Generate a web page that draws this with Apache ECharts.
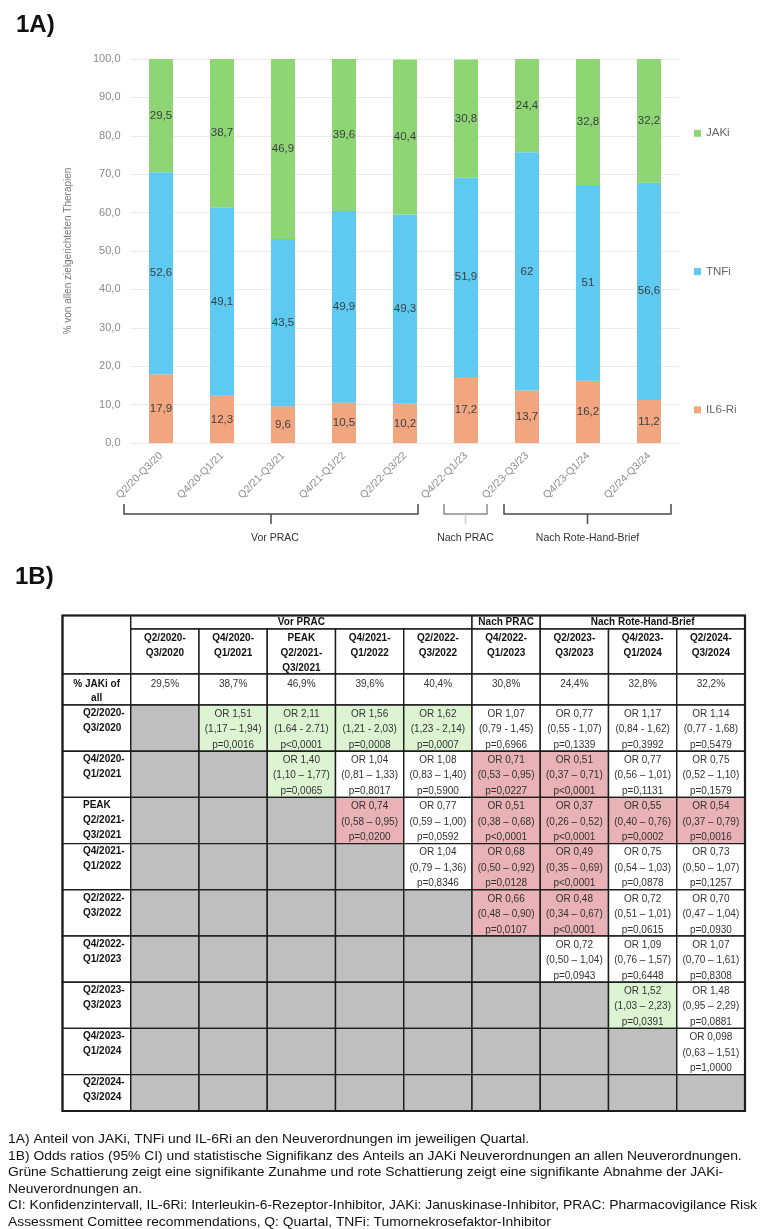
<!DOCTYPE html>
<html><head><meta charset="utf-8">
<script src="https://cdn.jsdelivr.net/npm/echarts@6/dist/echarts.min.js"></script>
<style>html,body{margin:0;padding:0;background:#fff}#c{width:761px;height:1229px}</style>
</head><body><div id="c"></div>
<script>
// ---------- DATA ----------
const periods = ['Q2/20-Q3/20','Q4/20-Q1/21','Q2/21-Q3/21','Q4/21-Q1/22','Q2/22-Q3/22','Q4/22-Q1/23','Q2/23-Q3/23','Q4/23-Q1/24','Q2/24-Q3/24'];
const jaki  = [29.5, 38.7, 46.9, 39.6, 40.4, 30.8, 24.4, 32.8, 32.2];
const tnfi  = [52.6, 49.1, 43.5, 49.9, 49.3, 51.9, 62, 51, 56.6];
const il6ri = [17.9, 12.3, 9.6, 10.5, 10.2, 17.2, 13.7, 16.2, 11.2];
const seriesNames = ['JAKi', 'TNFi', 'IL6-Ri'];
const yAxisTitle = '% von allen zielgerichteten Therapien';
const periodGroups = [['Vor PRAC', 0, 4], ['Nach PRAC', 5, 5], ['Nach Rote-Hand-Brief', 6, 8]];

const tableLabels = ['Q2/2020-\nQ3/2020','Q4/2020-\nQ1/2021','PEAK\nQ2/2021-\nQ3/2021','Q4/2021-\nQ1/2022','Q2/2022-\nQ3/2022','Q4/2022-\nQ1/2023','Q2/2023-\nQ3/2023','Q4/2023-\nQ1/2024','Q2/2024-\nQ3/2024'];
const pctRowLabel = '% JAKi of\nall';
// [row, col, OR, CI, p, significance (1 = increase, -1 = decrease, 0 = n.s.)]
const orCells = [
  [0,1,'OR 1,51','(1,17 – 1,94)','p=0,0016',1],
  [0,2,'OR 2,11','(1.64 - 2.71)','p<0,0001',1],
  [0,3,'OR 1,56','(1,21 - 2,03)','p=0,0008',1],
  [0,4,'OR 1,62','(1,23 - 2,14)','p=0,0007',1],
  [0,5,'OR 1,07','(0,79 - 1,45)','p=0,6966',0],
  [0,6,'OR 0,77','(0,55 - 1,07)','p=0,1339',0],
  [0,7,'OR 1,17','(0,84 - 1,62)','p=0,3992',0],
  [0,8,'OR 1,14','(0,77 - 1,68)','p=0,5479',0],
  [1,2,'OR 1,40','(1,10 – 1,77)','p=0,0065',1],
  [1,3,'OR 1,04','(0,81 – 1,33)','p=0,8017',0],
  [1,4,'OR 1,08','(0,83 – 1,40)','p=0,5900',0],
  [1,5,'OR 0,71','(0,53 – 0,95)','p=0,0227',-1],
  [1,6,'OR 0,51','(0,37 – 0,71)','p<0,0001',-1],
  [1,7,'OR 0,77','(0,56 – 1,01)','p=0,1131',0],
  [1,8,'OR 0,75','(0,52 – 1,10)','p=0,1579',0],
  [2,3,'OR 0,74','(0,58 – 0,95)','p=0,0200',-1],
  [2,4,'OR 0,77','(0,59 – 1,00)','p=0,0592',0],
  [2,5,'OR 0,51','(0,38 – 0,68)','p<0,0001',-1],
  [2,6,'OR 0,37','(0,26 – 0,52)','p<0,0001',-1],
  [2,7,'OR 0,55','(0,40 – 0,76)','p=0,0002',-1],
  [2,8,'OR 0,54','(0,37 – 0,79)','p=0,0016',-1],
  [3,4,'OR 1,04','(0,79 – 1,36)','p=0,8346',0],
  [3,5,'OR 0,68','(0,50 – 0,92)','p=0,0128',-1],
  [3,6,'OR 0,49','(0,35 – 0,69)','p<0,0001',-1],
  [3,7,'OR 0,75','(0,54 – 1,03)','p=0,0878',0],
  [3,8,'OR 0,73','(0,50 – 1,07)','p=0,1257',0],
  [4,5,'OR 0,66','(0,48 – 0,90)','p=0,0107',-1],
  [4,6,'OR 0,48','(0,34 – 0,67)','p<0,0001',-1],
  [4,7,'OR 0,72','(0,51 – 1,01)','p=0,0615',0],
  [4,8,'OR 0,70','(0,47 – 1,04)','p=0,0930',0],
  [5,6,'OR 0,72','(0,50 – 1,04)','p=0,0943',0],
  [5,7,'OR 1,09','(0,76 – 1,57)','p=0,6448',0],
  [5,8,'OR 1,07','(0,70 – 1,61)','p=0,8308',0],
  [6,7,'OR 1,52','(1,03 – 2,23)','p=0,0391',1],
  [6,8,'OR 1,48','(0,95 – 2,29)','p=0,0881',0],
  [7,8,'OR 0,098','(0,63 – 1,51)','p=1,0000',0]
];
const footnotes = [
  '1A) Anteil von JAKi, TNFi und IL-6Ri an den Neuverordnungen im jeweiligen Quartal.',
  '1B) Odds ratios (95% CI) und statistische Signifikanz des Anteils an JAKi Neuverordnungen an allen Neuverordnungen.',
  'Grüne Schattierung zeigt eine signifikante Zunahme und rote Schattierung zeigt eine signifikante Abnahme der JAKi-',
  'Neuverordnungen an.',
  'CI: Konfidenzintervall, IL-6Ri: Interleukin-6-Rezeptor-Inhibitor, JAKi: Januskinase-Inhibitor, PRAC: Pharmacovigilance Risk',
  'Assessment Comittee recommendations, Q: Quartal, TNFi: Tumornekrosefaktor-Inhibitor'
];

// ---------- STYLE / LAYOUT ----------
const COL = { JAKi: '#8DD673', TNFi: '#5EC9F1', 'IL6-Ri': '#F1A67F' };
const FONT = '"Liberation Sans", Arial, sans-serif';
const fmt = v => String(v).replace('.', ',');

// table layout (axis units: columns of 1, data rows of 1)
const UNIT = 46.2;
const tTop = 615.5, tDataTop = 705, tBottom = 1111;
const yGroupTop = -(tDataTop - tTop) / UNIT;
const yHeadTop = -(tDataTop - 629) / UNIT;
const yPctTop = -(tDataTop - 674) / UNIT;
const yMax = (tBottom - tDataTop) / UNIT;
const GRAY = '#BFBFBF', GREEN = '#DDF4D3', RED = '#E8B2B6';

const cells = [];
function addCell(x0, x1, y0, y1, fill, text, opt) {
  cells.push(Object.assign({ x0, x1, y0, y1: Math.min(y1, yMax), fill, text }, opt || {}));
}
addCell(-1, 0, yGroupTop, yPctTop, '#fff', '');
periodGroups.forEach(g => addCell(g[1], g[2] + 1, yGroupTop, yHeadTop, '#fff', g[0], { bold: true, mid: true }));
tableLabels.forEach((l, i) => addCell(i, i + 1, yHeadTop, yPctTop, '#fff', l, { bold: true, pad: 1.5, lh: 15 }));
addCell(-1, 0, yPctTop, 0, '#fff', pctRowLabel, { bold: true, pad: 3.5, lh: 14 });
jaki.forEach((v, i) => addCell(i, i + 1, yPctTop, 0, '#fff', fmt(v.toFixed(1)) + '%', { pad: 3.5, lh: 14, color: '#333' }));
const cellMap = {};
orCells.forEach(c => { cellMap[c[0] + '_' + c[1]] = c; });
tableLabels.forEach((l, r) => {
  addCell(-1, 0, r, r + 1, '#fff', l, { bold: true, pad: 0.5, lh: 15, left: true });
  tableLabels.forEach((_, c) => {
    const e = cellMap[r + '_' + c];
    if (!e) { addCell(c, c + 1, r, r + 1, c <= r ? GRAY : '#fff', ''); return; }
    const fill = e[5] > 0 ? GREEN : (e[5] < 0 ? RED : '#fff');
    addCell(c, c + 1, r, r + 1, fill, e[2] + '\n' + e[3] + '\n' + e[4], { pad: 1.2, lh: 15.5, color: '#333' });
  });
});
addCell(-1, 9, yGroupTop, yMax, 'none', '', { frame: true });

function renderCell(params, api) {
  const c = cells[params.dataIndex];
  const p0 = api.coord([c.x0, c.y0]);
  const p1 = api.coord([c.x1, c.y1]);
  const x = p0[0], y = p0[1], w = p1[0] - p0[0], h = p1[1] - p0[1];
  const children = [{
    type: 'rect', shape: { x, y, width: w, height: h },
    style: { fill: c.fill, stroke: '#1c1c1c', lineWidth: c.frame ? 2.2 : 1.4 }
  }];
  if (c.text) {
    children.push({
      type: 'text',
      x: c.left ? x + 20.5 : x + w / 2,
      y: c.mid ? y + h / 2 : y + (c.pad || 0),
      style: {
        text: c.text, fill: c.color || '#111',
        fontSize: 10, fontFamily: FONT, fontWeight: c.bold ? 'bold' : 'normal',
        align: c.left ? 'left' : 'center', verticalAlign: c.mid ? 'middle' : 'top',
        lineHeight: c.lh || 12
      }
    });
  }
  return { type: 'group', children };
}

const chart = echarts.init(document.getElementById('c'), null, { renderer: 'canvas' });

const barSeries = [['IL6-Ri', il6ri], ['TNFi', tnfi], ['JAKi', jaki]].map(([name, data]) => ({
  name, type: 'bar', stack: 'share', data, barWidth: 24,
  xAxisIndex: 0, yAxisIndex: 0,
  itemStyle: { color: COL[name] },
  label: { show: true, position: 'inside', formatter: p => fmt(p.value), color: '#3b3f42', fontSize: 11.5, fontFamily: FONT },
  emphasis: { disabled: true }
}));

chart.setOption({
  animation: false,
  backgroundColor: '#fff',
  textStyle: { fontFamily: FONT },
  grid: [
    { left: 130.5, right: 81.5, top: 59, bottom: 1229 - 443, outerBoundsMode: 'none', containLabel: false },
    { left: 62.5, right: 761 - 745, top: tTop, bottom: 1229 - tBottom, outerBoundsMode: 'none', containLabel: false }
  ],
  legend: {
    data: seriesNames, orient: 'vertical', left: 689, top: 121.3,
    itemWidth: 7, itemHeight: 7, itemGap: 124.3, icon: 'rect',
    textStyle: { fontSize: 11.5, color: '#666', lineHeight: 14, fontFamily: FONT },
    selectedMode: false
  },
  xAxis: [
    { type: 'category', gridIndex: 0, data: periods,
      axisLine: { show: false }, axisTick: { show: false },
      axisLabel: { rotate: 45, fontSize: 10.5, color: '#8a8a8a', margin: 11, interval: 0 } },
    { type: 'value', gridIndex: 1, min: -1, max: 9, show: false }
  ],
  yAxis: [
    { type: 'value', gridIndex: 0, min: 0, max: 100, interval: 10,
      name: yAxisTitle, nameLocation: 'middle', nameGap: 57,
      nameTextStyle: { fontSize: 10, color: '#777' },
      axisLine: { show: false }, axisTick: { show: false },
      axisLabel: { formatter: v => v.toFixed(1).replace('.', ','), fontSize: 11, color: '#8a8a8a', margin: 10 },
      splitLine: { lineStyle: { color: '#ebebeb', width: 1 } } },
    { type: 'value', gridIndex: 1, min: yGroupTop, max: yMax, inverse: true, show: false }
  ],
  series: barSeries.concat([{
    type: 'custom', xAxisIndex: 1, yAxisIndex: 1, silent: true,
    renderItem: renderCell,
    encode: { x: [0, 1], y: [2, 3] },
    data: cells.map(c => [c.x0, c.x1, c.y0, c.y1])
  }])
});

// ---------- annotations ----------
const graphics = [];
graphics.push({ type: 'text', x: 16, y: 25, style: { text: '1A)', fontSize: 24, fontWeight: 'bold', fontFamily: FONT, fill: '#111', textVerticalAlign: 'middle', verticalAlign: 'middle' } });
graphics.push({ type: 'text', x: 15, y: 577, style: { text: '1B)', fontSize: 24, fontWeight: 'bold', fontFamily: FONT, fill: '#111', textVerticalAlign: 'middle', verticalAlign: 'middle' } });

const bracketPad = [[37, 13], [22, 21], [23, 22]];
const bracketColor = ['#4a4a4a', '#8a8a8a', '#4a4a4a'];
const tickColor = ['#4a4a4a', '#cfcfcf', '#4a4a4a'];
const yB = 514;
periodGroups.forEach((g, i) => {
  const xl = chart.convertToPixel({ xAxisIndex: 0 }, periods[g[1]]) - bracketPad[i][0];
  const xr = chart.convertToPixel({ xAxisIndex: 0 }, periods[g[2]]) + bracketPad[i][1];
  const xc = (xl + xr) / 2;
  graphics.push({ type: 'polyline', shape: { points: [[xl, yB - 10], [xl, yB], [xr, yB], [xr, yB - 10]] }, style: { stroke: bracketColor[i], lineWidth: 1.5, fill: null } });
  graphics.push({ type: 'line', shape: { x1: xc, y1: yB, x2: xc, y2: yB + 10 }, style: { stroke: tickColor[i], lineWidth: 1.5 } });
  graphics.push({ type: 'text', x: xc + (i === 0 ? 4 : 0), y: 538, style: { text: g[0], fontSize: 10.5, fontFamily: FONT, fill: '#333', align: 'center', textAlign: 'center', verticalAlign: 'middle', textVerticalAlign: 'middle' } });
});

const FN_SIZE = 13;
const ctx = document.createElement('canvas').getContext('2d');
ctx.font = FN_SIZE + 'px ' + FONT;
const fScale = 749 / ctx.measureText(footnotes[4]).width;
footnotes.forEach((t, i) => {
  graphics.push({ type: 'text', x: 8, y: 1139.5 + i * 16.6, scaleX: fScale,
    style: { text: t, fontSize: FN_SIZE, fontFamily: FONT, fill: '#111', verticalAlign: 'middle', textVerticalAlign: 'middle' } });
});

chart.setOption({ graphic: graphics });
</script>
</body></html>
